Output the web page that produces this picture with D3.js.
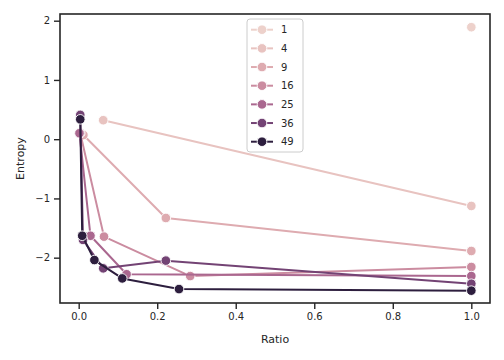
<!DOCTYPE html>
<html>
<head>
<meta charset="utf-8">
<script src="https://cdn.jsdelivr.net/npm/d3@7"></script>
<style>
  body { margin: 0; background: #fff; }
  svg { display: block; font-family: "DejaVu Sans", sans-serif; }
</style>
</head>
<body>
<svg id="chart" width="504" height="360"></svg>
<script>
// ---- data ----
const hueLevels = [1, 4, 9, 16, 25, 36, 49];
const ratio1  = [1.0];
const entropy1 = [1.89];
const ratio4  = [0.0625, 1.0];
const entropy4 = [0.32, -1.127];
const ratio9  = [0.012, 0.222, 1.0];
const entropy9 = [0.07, -1.33, -1.887];
const ratio16 = [0.004, 0.0645, 0.284, 1.0];
const entropy16 = [0.10, -1.645, -2.31, -2.157];
const ratio25 = [0.002, 0.030, 0.122, 1.0];
const entropy25 = [0.10, -1.63, -2.28, -2.31];
const ratio36 = [0.004, 0.011, 0.0625, 0.222, 1.0];
const entropy36 = [0.41, -1.70, -2.18, -2.05, -2.44];
const ratio49 = [0.004, 0.009, 0.040, 0.111, 0.2555, 1.0];
const entropy49 = [0.335, -1.63, -2.04, -2.35, -2.53, -2.557];
const xTicks = [0, 0.2, 0.4, 0.6, 0.8, 1.0];
const yTicks = [-2, -1, 0, 1, 2];
const xLabel = "Ratio";
const yLabel = "Entropy";

const seriesRatios = [ratio1, ratio4, ratio9, ratio16, ratio25, ratio36, ratio49];
const seriesEntropies = [entropy1, entropy4, entropy9, entropy16, entropy25, entropy36, entropy49];
const series = hueLevels.map((h, i) => ({
  hue: h,
  points: seriesRatios[i].map((r, j) => ({ x: r, y: seriesEntropies[i][j] }))
}));

// ---- seaborn default "ch:" cubehelix colormap ----
function cubehelix(x) {
  const gamma = 1, s = 0, r = 0.4, h = 0.8;
  const xg = Math.pow(x, gamma);
  const a = h * xg * (1 - xg) / 2;
  const phi = 2 * Math.PI * (s / 3 + r * x);
  const c = Math.cos(phi), sn = Math.sin(phi);
  const clip = v => Math.max(0, Math.min(1, v));
  const R = clip(xg + a * (-0.14861 * c + 1.78277 * sn));
  const G = clip(xg + a * (-0.29227 * c - 0.90649 * sn));
  const B = clip(xg + a * (1.97294 * c));
  return d3.rgb(R * 255, G * 255, B * 255).formatHex();
}
const norm = d3.scaleLinear().domain(d3.extent(hueLevels)).range([0, 1]);
const color = v => cubehelix(0.85 - 0.7 * norm(v));

// ---- layout ----
const svg = d3.select("#chart");
const margin = { left: 60, right: 14, top: 14, bottom: 57 };
const W = 504, H = 360;
const x0 = margin.left, x1 = W - margin.right, y0 = margin.top, y1 = H - margin.bottom;

const allX = seriesRatios.flat(), allY = seriesEntropies.flat();
const padX = (d3.max(allX) - d3.min(allX)) * 0.05;
const x = d3.scaleLinear().domain([d3.min(allX) - padX - (d3.min(allX) - 0), d3.max(allX) + padX]).range([x0, x1]);
x.domain([0 - 0.0476, 1.0476]);
const y = d3.scaleLinear().domain([-2.765, 2.113]).range([y1, y0]);

const ink = "#262626";

// axes
const xAxis = d3.axisBottom(x).tickValues(xTicks).tickFormat(d3.format(".1f")).tickSize(6).tickPadding(4);
const yAxis = d3.axisLeft(y).tickValues(yTicks).tickFormat(d => d < 0 ? "\u2212" + Math.abs(d) : String(d)).tickSize(6).tickPadding(4);

const gx = svg.append("g").attr("transform", `translate(0,${y1})`).call(xAxis);
const gy = svg.append("g").attr("transform", `translate(${x0},0)`).call(yAxis);
[gx, gy].forEach(g => {
  g.select(".domain").remove();
  g.selectAll(".tick line").attr("stroke", ink).attr("stroke-width", 1.4);
  g.selectAll(".tick text").attr("fill", ink).style("font-size", "10px").style("font-family", "DejaVu Sans, sans-serif");
});

// frame
svg.append("rect").attr("x", x0).attr("y", y0).attr("width", x1 - x0).attr("height", y1 - y0)
  .attr("fill", "none").attr("stroke", ink).attr("stroke-width", 1.6);

// axis labels
svg.append("text").attr("x", (x0 + x1) / 2).attr("y", 343).attr("text-anchor", "middle")
  .attr("fill", ink).style("font-size", "11px").text(xLabel);
svg.append("text").attr("transform", `translate(24,${(y0 + y1) / 2}) rotate(-90)`).attr("text-anchor", "middle")
  .attr("fill", ink).style("font-size", "11px").text(yLabel);

// lines + markers
const line = d3.line().x(d => x(d.x)).y(d => y(d.y));
const plot = svg.append("g");
series.forEach(s => {
  const g = plot.append("g");
  g.append("path").datum(s.points).attr("d", line).attr("fill", "none")
    .attr("stroke", color(s.hue)).attr("stroke-width", 2).attr("stroke-linejoin", "round");
  g.selectAll("circle").data(s.points).join("circle")
    .attr("cx", d => x(d.x)).attr("cy", d => y(d.y)).attr("r", 4.8)
    .attr("fill", color(s.hue)).attr("stroke", "#fff").attr("stroke-width", 0.9);
});

// legend
const lg = svg.append("g");
const lgX = 247, lgY = 19, lgW = 56, lgH = 133;
lg.append("rect").attr("x", lgX).attr("y", lgY).attr("width", lgW).attr("height", lgH).attr("rx", 3)
  .attr("fill", "#fff").attr("fill-opacity", 0.8).attr("stroke", "#cccccc").attr("stroke-width", 1);
const rowY = d3.scalePoint().domain(hueLevels).range([29.7, 141.7]);
hueLevels.forEach(h => {
  const yy = rowY(h);
  lg.append("line").attr("x1", 251).attr("x2", 273).attr("y1", yy).attr("y2", yy)
    .attr("stroke", color(h)).attr("stroke-width", 2);
  lg.append("circle").attr("cx", 262).attr("cy", yy).attr("r", 4.8)
    .attr("fill", color(h)).attr("stroke", "#fff").attr("stroke-width", 0.9);
  lg.append("text").attr("x", 281).attr("y", yy + 3.6).attr("fill", ink)
    .style("font-size", "10px").text(String(h));
});
</script>
</body>
</html>
